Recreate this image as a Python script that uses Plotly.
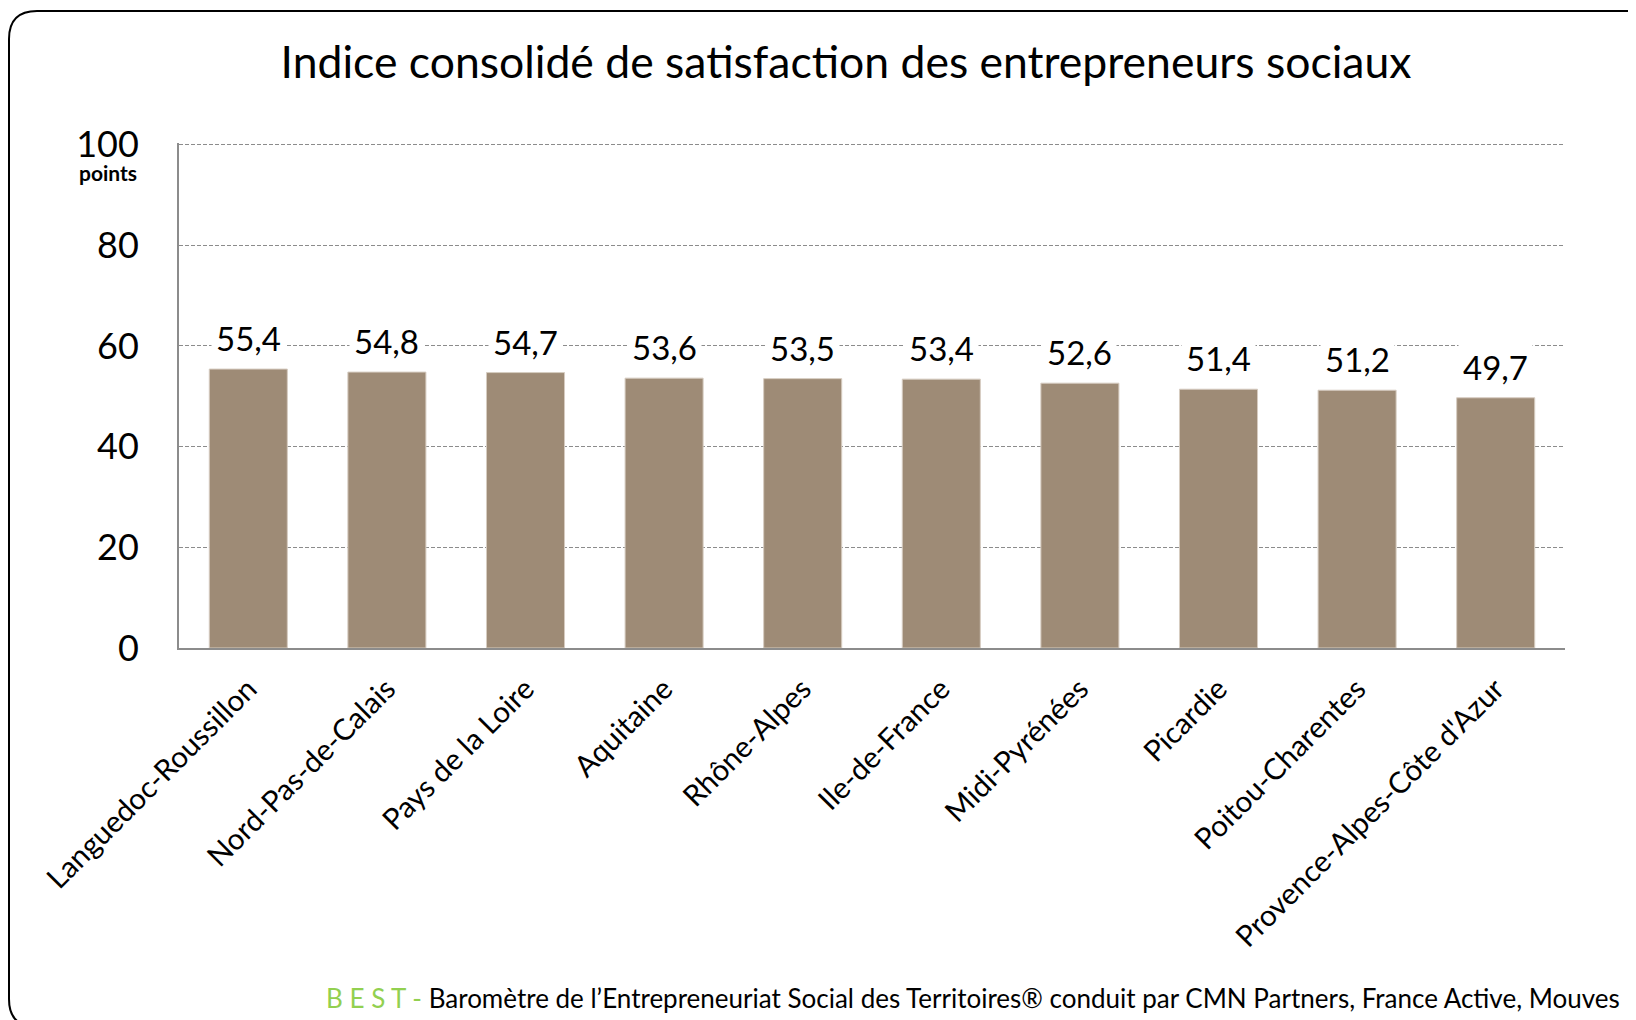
import plotly.graph_objects as go

regions = ["Languedoc-Roussillon", "Nord-Pas-de-Calais", "Pays de la Loire", "Aquitaine",
           "Rhône-Alpes", "Ile-de-France", "Midi-Pyrénées", "Picardie",
           "Poitou-Charentes", "Provence-Alpes-Côte d'Azur"]
values = [55.4, 54.8, 54.7, 53.6, 53.5, 53.4, 52.6, 51.4, 51.2, 49.7]
y_ticks = [0, 20, 40, 60, 80, 100]

# page body has an 8px margin: work in screenshot pixels, offset by 8
OFF = 8
W, H = 1636 - OFF, 1020 - OFF
L, T = 179 - OFF, 143 - OFF
R = W - (1565 - OFF)
B = H - (648 - OFF)
PW, PH = W - L - R, H - T - B

def px(x):
    return (x - OFF - L) / PW

def py(y):
    return (H - B - (y - OFF)) / PH

FONT = "Lato, 'Open Sans', sans-serif"

fig = go.Figure()
fig.add_trace(go.Bar(
    x=regions, y=values,
    marker=dict(color="#9E8B76", line=dict(color="#D6CCC1", width=1)),
    hoverinfo="x+y",
))

for r, v in zip(regions, values):
    fig.add_annotation(
        x=r, y=v, xref="x", yref="y",
        text=f"{v:.1f}".replace(".", ","),
        showarrow=False, yanchor="middle", yshift=31,
        font=dict(family=FONT, size=33, color="black"),
        bgcolor="white", borderpad=4,
    )

fig.add_annotation(
    x=px(108), y=py(172), xref="paper", yref="paper",
    text="<b>points</b>", showarrow=False, xanchor="center", yanchor="middle",
    font=dict(family=FONT, size=21, color="black"),
)

fig.add_annotation(
    x=px(1622), y=py(998), xref="paper", yref="paper",
    text='<span style="color:#92D050">B E S T - </span>Baromètre de l’Entrepreneuriat Social des Territoires® conduit par CMN Partners, France Active, Mouves',
    showarrow=False, xanchor="right", yanchor="middle",
    font=dict(family=FONT, size=26, color="black"),
)

# rounded outer frame
x0, x1, y0, y1, rr = 9, 1662, 11, 1027, 28
rx, ry = rr / PW, rr / PH
X0, X1, Y0, Y1 = px(x0), px(x1), py(y0), py(y1)
path = (f"M {X0+rx} {Y0} L {X1-rx} {Y0} Q {X1} {Y0} {X1} {Y0-ry} "
        f"L {X1} {Y1+ry} Q {X1} {Y1} {X1-rx} {Y1} L {X0+rx} {Y1} "
        f"Q {X0} {Y1} {X0} {Y1+ry} L {X0} {Y0-ry} Q {X0} {Y0} {X0+rx} {Y0} Z")
fig.add_shape(type="path", path=path, xref="paper", yref="paper",
              line=dict(color="black", width=2), layer="above")

fig.update_layout(
    width=W, height=H,
    margin=dict(l=L, r=R, t=T, b=B),
    paper_bgcolor="white", plot_bgcolor="white",
    bargap=0.437,
    showlegend=False,
    title=dict(text="Indice consolidé de satisfaction des entrepreneurs sociaux",
               x=(846 - OFF) / W, xanchor="center", y=1 - (62 - OFF) / H, yanchor="middle",
               font=dict(family=FONT, size=44.5, color="black")),
    font=dict(family=FONT, color="black"),
)
fig.update_xaxes(
    tickangle=-45, tickfont=dict(family=FONT, size=29.5, color="black"),
    showline=True, linecolor="#8C8C8C", linewidth=2, showgrid=False,
    ticks="", ticklabelstandoff=10, fixedrange=True,
)
fig.update_yaxes(
    range=[0, 100.3], tickvals=y_ticks, tickfont=dict(family=FONT, size=36, color="black"),
    showgrid=True, gridcolor="#8C8C8C", gridwidth=1, griddash="4px,2px",
    showline=True, linecolor="#8C8C8C", linewidth=2, zeroline=False,
    ticks="", ticklabelstandoff=31, fixedrange=True,
)

fig.write_html("out.html")
